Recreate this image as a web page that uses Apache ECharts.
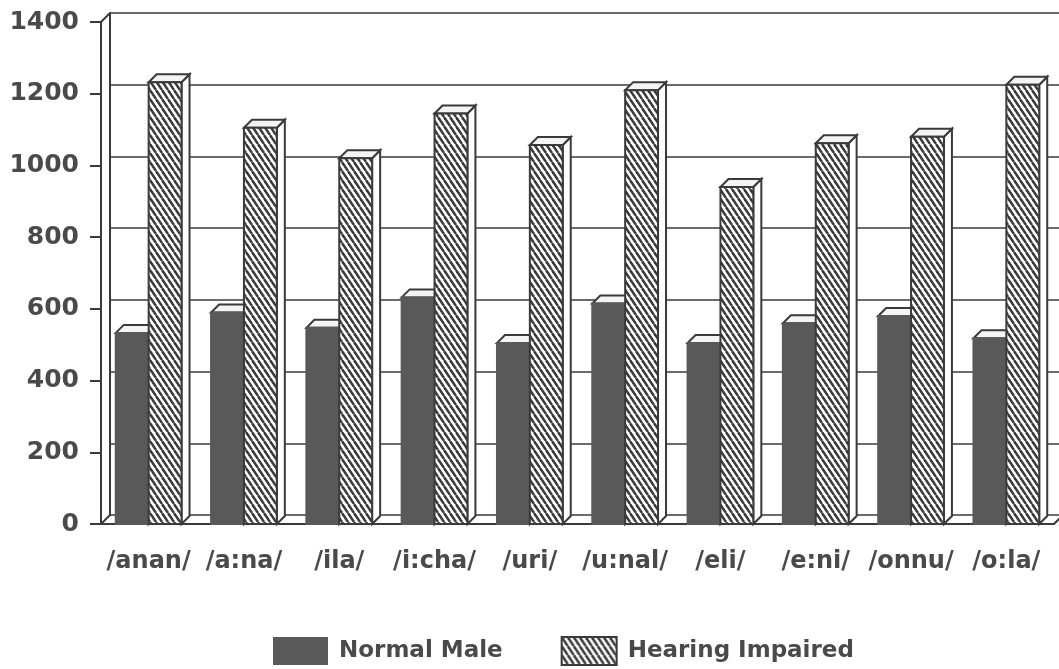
<!DOCTYPE html>
<html><head><meta charset="utf-8">
<script src="https://cdn.jsdelivr.net/npm/echarts@6/dist/echarts.min.js"></script>
<style>html,body{margin:0;padding:0;background:#fff}#c{width:1059px;height:669px}</style>
</head><body><div id="c"></div>
<script>
var categories = ['/anan/', '/a:na/', '/ila/', '/i:cha/', '/uri/', '/u:nal/', '/eli/', '/e:ni/', '/onnu/', '/o:la/'];
var normalMale = [533, 590, 547, 632, 505, 615, 505, 560, 580, 518];
var hearingImpaired = [1232, 1105, 1020, 1145, 1057, 1210, 940, 1062, 1080, 1225];
var seriesNames = ['Normal Male', 'Hearing Impaired'];
var yMin = 0, yMax = 1400, yStep = 200;

var LINE = '#3a3a3a', TEXT = '#4a4a4a', NORMAL = '#595959', CAP = '#f4f4f4';
var FONT = 'DejaVu Sans';
var GAP = 0.31, BAR_DEPTH = 8, WALL_DEPTH = 9;

function makeHatch() {
  var w = 6, h = 9;
  var c = document.createElement('canvas'); c.width = w; c.height = h;
  var g = c.getContext('2d');
  g.fillStyle = '#ffffff'; g.fillRect(0, 0, w, h);
  g.strokeStyle = '#3a3a3a'; g.lineWidth = 2.5;
  for (var dx = -w; dx <= w; dx += w) {
    g.beginPath(); g.moveTo(dx, 0); g.lineTo(dx + w, h); g.stroke();
  }
  return c;
}
var hatch = makeHatch();
var hatchFill = { image: hatch, repeat: 'repeat' };

function makeRender(k) {
  return function (params, api) {
    var ci = api.value(0), v = api.value(1);
    var p0 = api.coord([ci, 0]), p1 = api.coord([ci, v]);
    var band = api.size([1, 0])[0];
    var bw = band * (1 - GAP) / 2;
    var x = p0[0] - bw + k * bw, yb = p0[1], yt = p1[1], d = BAR_DEPTH;
    var front = k === 0 ? NORMAL : hatchFill;
    return {
      type: 'group',
      children: [
        { type: 'polygon', shape: { points: [[x + bw, yb], [x + bw + d, yb - d], [x + bw + d, yt - d], [x + bw, yt]] },
          style: { fill: '#ffffff', stroke: LINE, lineWidth: 2 } },
        { type: 'polygon', shape: { points: [[x, yt], [x + d, yt - d], [x + bw + d, yt - d], [x + bw, yt]] },
          style: { fill: CAP, stroke: LINE, lineWidth: 2 } },
        { type: 'rect', shape: { x: x, y: yt, width: bw, height: yb - yt },
          style: { fill: front, stroke: k === 0 ? NORMAL : LINE, lineWidth: 2 } }
      ]
    };
  };
}

function renderFrame(params, api) {
  var cs = params.coordSys, d = WALL_DEPTH;
  var x = cs.x, y = cs.y, w = cs.width, h = cs.height;
  var st = { stroke: LINE, lineWidth: 2 };
  return {
    type: 'group',
    children: [
      { type: 'line', shape: { x1: x, y1: y, x2: x + d, y2: y - d }, style: st },
      { type: 'line', shape: { x1: x, y1: y + h, x2: x + d, y2: y + h - d }, style: st },
      { type: 'line', shape: { x1: x + w, y1: y + h, x2: x + w + d, y2: y + h - d }, style: st }
    ]
  };
}

var chart = echarts.init(document.getElementById('c'), null, { renderer: 'canvas' });
chart.setOption({
  animation: false,
  backgroundColor: '#ffffff',
  grid: [
    { left: 101, top: 22, width: 953, height: 502 },
    { left: 101 + WALL_DEPTH, top: 22 - WALL_DEPTH, width: 953, height: 502 }
  ],
  xAxis: [
    { type: 'category', gridIndex: 0, data: categories, boundaryGap: true,
      axisLine: { lineStyle: { color: LINE, width: 2 } },
      axisTick: { alignWithLabel: true, length: 11, lineStyle: { color: LINE, width: 2 } },
      axisLabel: { interval: 0, margin: 26, fontFamily: FONT, fontWeight: 'bold', fontSize: 24, color: TEXT },
      splitLine: { show: false } },
    { type: 'category', gridIndex: 1, data: categories, show: false }
  ],
  yAxis: [
    { type: 'value', gridIndex: 0, min: yMin, max: yMax, interval: yStep,
      axisLine: { show: true, lineStyle: { color: LINE, width: 2 } },
      axisTick: { show: true, length: 11, lineStyle: { color: LINE, width: 2 } },
      axisLabel: { margin: 22, fontFamily: FONT, fontWeight: 'bold', fontSize: 25, color: TEXT,
        formatter: function (v) { return String(v); } },
      splitLine: { show: false } },
    { type: 'value', gridIndex: 1, min: yMin, max: yMax, interval: yStep,
      axisLine: { show: true, lineStyle: { color: LINE, width: 2 } },
      axisTick: { show: false }, axisLabel: { show: false },
      splitLine: { show: true, lineStyle: { color: LINE, width: 1.6 } } }
  ],
  legend: {
    left: 268, top: 631, itemWidth: 55, itemHeight: 28, itemGap: 58, icon: 'rect',
    textStyle: { fontFamily: FONT, fontWeight: 'bold', fontSize: 23, color: TEXT, padding: [0, 0, 0, 6] },
    data: [
      { name: seriesNames[0], itemStyle: { color: NORMAL, borderWidth: 0 } },
      { name: seriesNames[1], itemStyle: { color: hatchFill, borderColor: LINE, borderWidth: 2 } }
    ]
  },
  series: [
    { type: 'custom', name: 'frame', xAxisIndex: 0, yAxisIndex: 0, renderItem: renderFrame, data: [[0, 0]], silent: true, z: 1 },
    { type: 'custom', name: seriesNames[0], xAxisIndex: 0, yAxisIndex: 0, renderItem: makeRender(0),
      encode: { x: 0, y: 1 }, itemStyle: { color: NORMAL }, z: 3,
      data: normalMale.map(function (v, i) { return [i, v]; }) },
    { type: 'custom', name: seriesNames[1], xAxisIndex: 0, yAxisIndex: 0, renderItem: makeRender(1),
      encode: { x: 0, y: 1 }, itemStyle: { color: hatchFill }, z: 4,
      data: hearingImpaired.map(function (v, i) { return [i, v]; }) }
  ]
});
</script>
</body></html>
